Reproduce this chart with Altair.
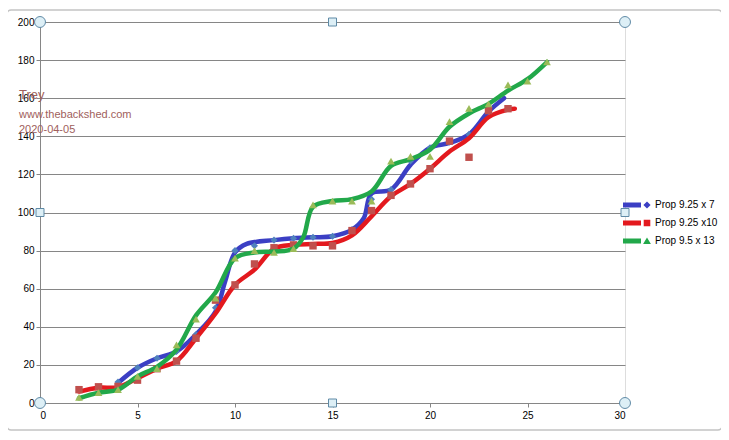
import altair as alt
import pandas as pd

series = ["Prop 9.25 x 7", "Prop 9.25 x10", "Prop 9.5 x 13"]
line_colors = ["#3b3fc4", "#e3191e", "#22a84a"]
marker_colors = ["#4f81bd", "#c0504d", "#9bbb59"]
marker_shapes = ["diamond", "square", "triangle-up"]

# smoothed curves
blue_line_x = [4, 5, 6, 7, 8, 9, 9.5, 10, 10.6, 12, 13, 14, 15, 16, 16.6, 17, 18, 19, 20, 21, 22, 23, 23.8]
blue_line_y = [10.5, 18.5, 23.5, 27, 36, 48, 64, 79, 83.5, 85.5, 86.5, 87, 87.5, 91, 97, 110, 112, 125, 134, 136.5, 141, 153, 160]
red_line_x = [2, 3, 4, 5, 6, 7, 8, 9, 10, 11, 12, 13, 14, 15, 16, 17, 18, 19, 20, 21, 22, 23, 24, 24.35]
red_line_y = [6, 8, 8.3, 13, 18, 22, 34, 47, 62, 70, 81, 83, 83.5, 84, 88, 98, 108.5, 115, 123, 132, 139, 150, 154, 154.5]
green_line_x = [2, 3, 4, 5, 6, 7, 8, 9, 10, 11, 12, 13, 13.5, 14, 15, 16, 17, 18, 19, 20, 21, 22, 23, 24, 25, 26]
green_line_y = [2.5, 5.4, 7, 14, 19, 28, 46, 58, 76, 79, 79.5, 81, 87, 103, 106, 107, 111, 124.5, 128, 133, 145, 152, 157, 164, 170, 179]

# markers
blue_pts_x = [4, 5, 6, 7, 8, 9, 10, 11, 12, 13, 14, 15, 16, 17, 18, 19, 20, 21, 22, 23]
blue_pts_y = [11, 18.5, 23.5, 27, 36, 50, 80, 82.5, 85.5, 86.5, 87, 87.5, 91, 107, 112, 127, 134, 137, 141, 153]
red_pts_x = [2, 3, 4, 5, 6, 7, 8, 9, 10, 11, 12, 13, 14, 15, 16, 17, 18, 19, 20, 21, 22, 23, 24]
red_pts_y = [7, 8.5, 8.7, 12, 18, 22, 34, 54, 62, 73, 81.5, 83, 82.5, 82.5, 90.5, 101, 109, 115, 123, 137.5, 129, 153.5, 154.5]
green_pts_x = [2, 3, 4, 5, 6, 7, 8, 9, 10, 11, 12, 13, 14, 15, 16, 17, 18, 19, 20, 21, 22, 23, 24, 25, 26]
green_pts_y = [3, 5.5, 7, 14, 18, 30.5, 44, 55, 76, 80, 79, 81, 104, 106, 106, 106, 127, 129.5, 129.5, 147.7, 154.7, 157, 167, 169, 179]

x_ticks = [0, 5, 10, 15, 20, 25, 30]
y_ticks = [0, 20, 40, 60, 80, 100, 120, 140, 160, 180, 200]

notes = ["Trey", "www.thebackshed.com", "2020-04-05"]

handle_circle_x = [0, 0, 30, 30]
handle_circle_y = [0, 200, 0, 200]
handle_square_x = [15, 15, 0, 30]
handle_square_y = [0, 200, 100, 100]

FONT = "Liberation Sans"
GRAY = "#868686"

X = alt.X("x:Q", scale=alt.Scale(domain=[0, 30], nice=False, zero=False),
          axis=alt.Axis(values=x_ticks, grid=False, title=None, tickSize=4, labelPadding=3,
                        domainColor=GRAY, tickColor=GRAY, labelFontSize=10, labelFont=FONT,
                        labelColor="#000000", format="d"))
Y = alt.Y("y:Q", scale=alt.Scale(domain=[0, 200], nice=False),
          axis=alt.Axis(values=y_ticks, grid=True, gridColor=GRAY, title=None, tickSize=4,
                        labelPadding=2, domainColor=GRAY, tickColor=GRAY, labelFontSize=10,
                        labelFont=FONT, labelColor="#000000", format="d"))

color_scale = alt.Scale(domain=series, range=line_colors)

lines_xy = [(blue_line_x, blue_line_y), (red_line_x, red_line_y), (green_line_x, green_line_y)]
pts_xy = [(blue_pts_x, blue_pts_y), (red_pts_x, red_pts_y), (green_pts_x, green_pts_y)]
marker_sizes = [50, 55, 60]

layers = []

# outer chart frame
frame = alt.Chart(pd.DataFrame({"k": [0]})).mark_rect(
    fillOpacity=0, stroke="#c4c4c4", strokeWidth=1.5, cornerRadius=4
).encode(x=alt.value(-33), x2=alt.value(682), y=alt.value(-12), y2=alt.value(408))
layers.append(frame)

for i, name in enumerate(series):
    lx, ly = lines_xy[i]
    ldf = pd.DataFrame({"x": lx, "y": ly})
    line = alt.Chart(ldf).mark_line(
        strokeWidth=4.5, interpolate="catmull-rom", strokeCap="round", strokeJoin="round",
        color=line_colors[i]
    ).encode(x=X, y=Y)
    px, py = pts_xy[i]
    pdf = pd.DataFrame({"x": px, "y": py})
    pts = alt.Chart(pdf).mark_point(
        shape=marker_shapes[i], filled=True, size=marker_sizes[i], opacity=1,
        color=marker_colors[i], strokeWidth=0
    ).encode(x=X, y=Y)
    layers += [line, pts]

# legend carrier (no visible data)
legend_paths = [
    "M-6,-0.8 L0,-0.8 L0,0.8 L-6,0.8 Z M0.8,0 L2,-1.2 L3.2,0 L2,1.2 Z",
    "M-6,-0.8 L0,-0.8 L0,0.8 L-6,0.8 Z M0.9,-1.1 L3.1,-1.1 L3.1,1.1 L0.9,1.1 Z",
    "M-6,-0.8 L0,-0.8 L0,0.8 L-6,0.8 Z M2,-1.2 L3.3,1 L0.7,1 Z",
]
leg = alt.Legend(orient="none", legendX=596, legendY=178, title=None, labelFontSize=10,
                 labelFont=FONT, labelColor="#000000", labelOffset=9, rowPadding=8,
                 padding=0, symbolStrokeWidth=0, symbolSize=36, symbolOpacity=1)
all_df = pd.DataFrame({"x": blue_pts_x[:3], "y": blue_pts_y[:3], "series": series})
legend_layer = alt.Chart(all_df).transform_filter("false").mark_point(
    filled=True, opacity=1, size=36
).encode(
    x=X, y=Y,
    color=alt.Color("series:N", scale=color_scale, legend=leg),
    shape=alt.Shape("series:N", scale=alt.Scale(domain=series, range=legend_paths), legend=leg),
)
layers.append(legend_layer)

# annotations
note_sizes = [13, 11, 11]
note_y = [73, 93, 108]
for t, fs, yy in zip(notes, note_sizes, note_y):
    layers.append(
        alt.Chart(pd.DataFrame({"t": [t]})).mark_text(
            align="left", baseline="middle", fontSize=fs, font=FONT, color="#a0605c"
        ).encode(text="t:N", x=alt.value(-21), y=alt.value(yy))
    )

# selection handles
hc = alt.Chart(pd.DataFrame({"x": handle_circle_x, "y": handle_circle_y})).mark_point(
    shape="circle", filled=True, size=120, fill="#ddeff6", stroke="#5f8aa6", strokeWidth=1, opacity=1
).encode(x=X, y=Y)
hs = alt.Chart(pd.DataFrame({"x": handle_square_x, "y": handle_square_y})).mark_point(
    shape="square", filled=True, size=64, fill="#ddeff6", stroke="#5f8aa6", strokeWidth=1, opacity=1
).encode(x=X, y=Y)
layers += [hc, hs]

chart = alt.layer(*layers).properties(
    width=585, height=381,
    autosize=alt.AutoSizeParams(type="none"),
    padding={"left": 32, "top": 14, "right": 96, "bottom": 29},
).configure_view(stroke=GRAY, strokeWidth=1).configure(background="#ffffff")

chart.save("out.html", embed_options={"renderer": "svg", "actions": False})
